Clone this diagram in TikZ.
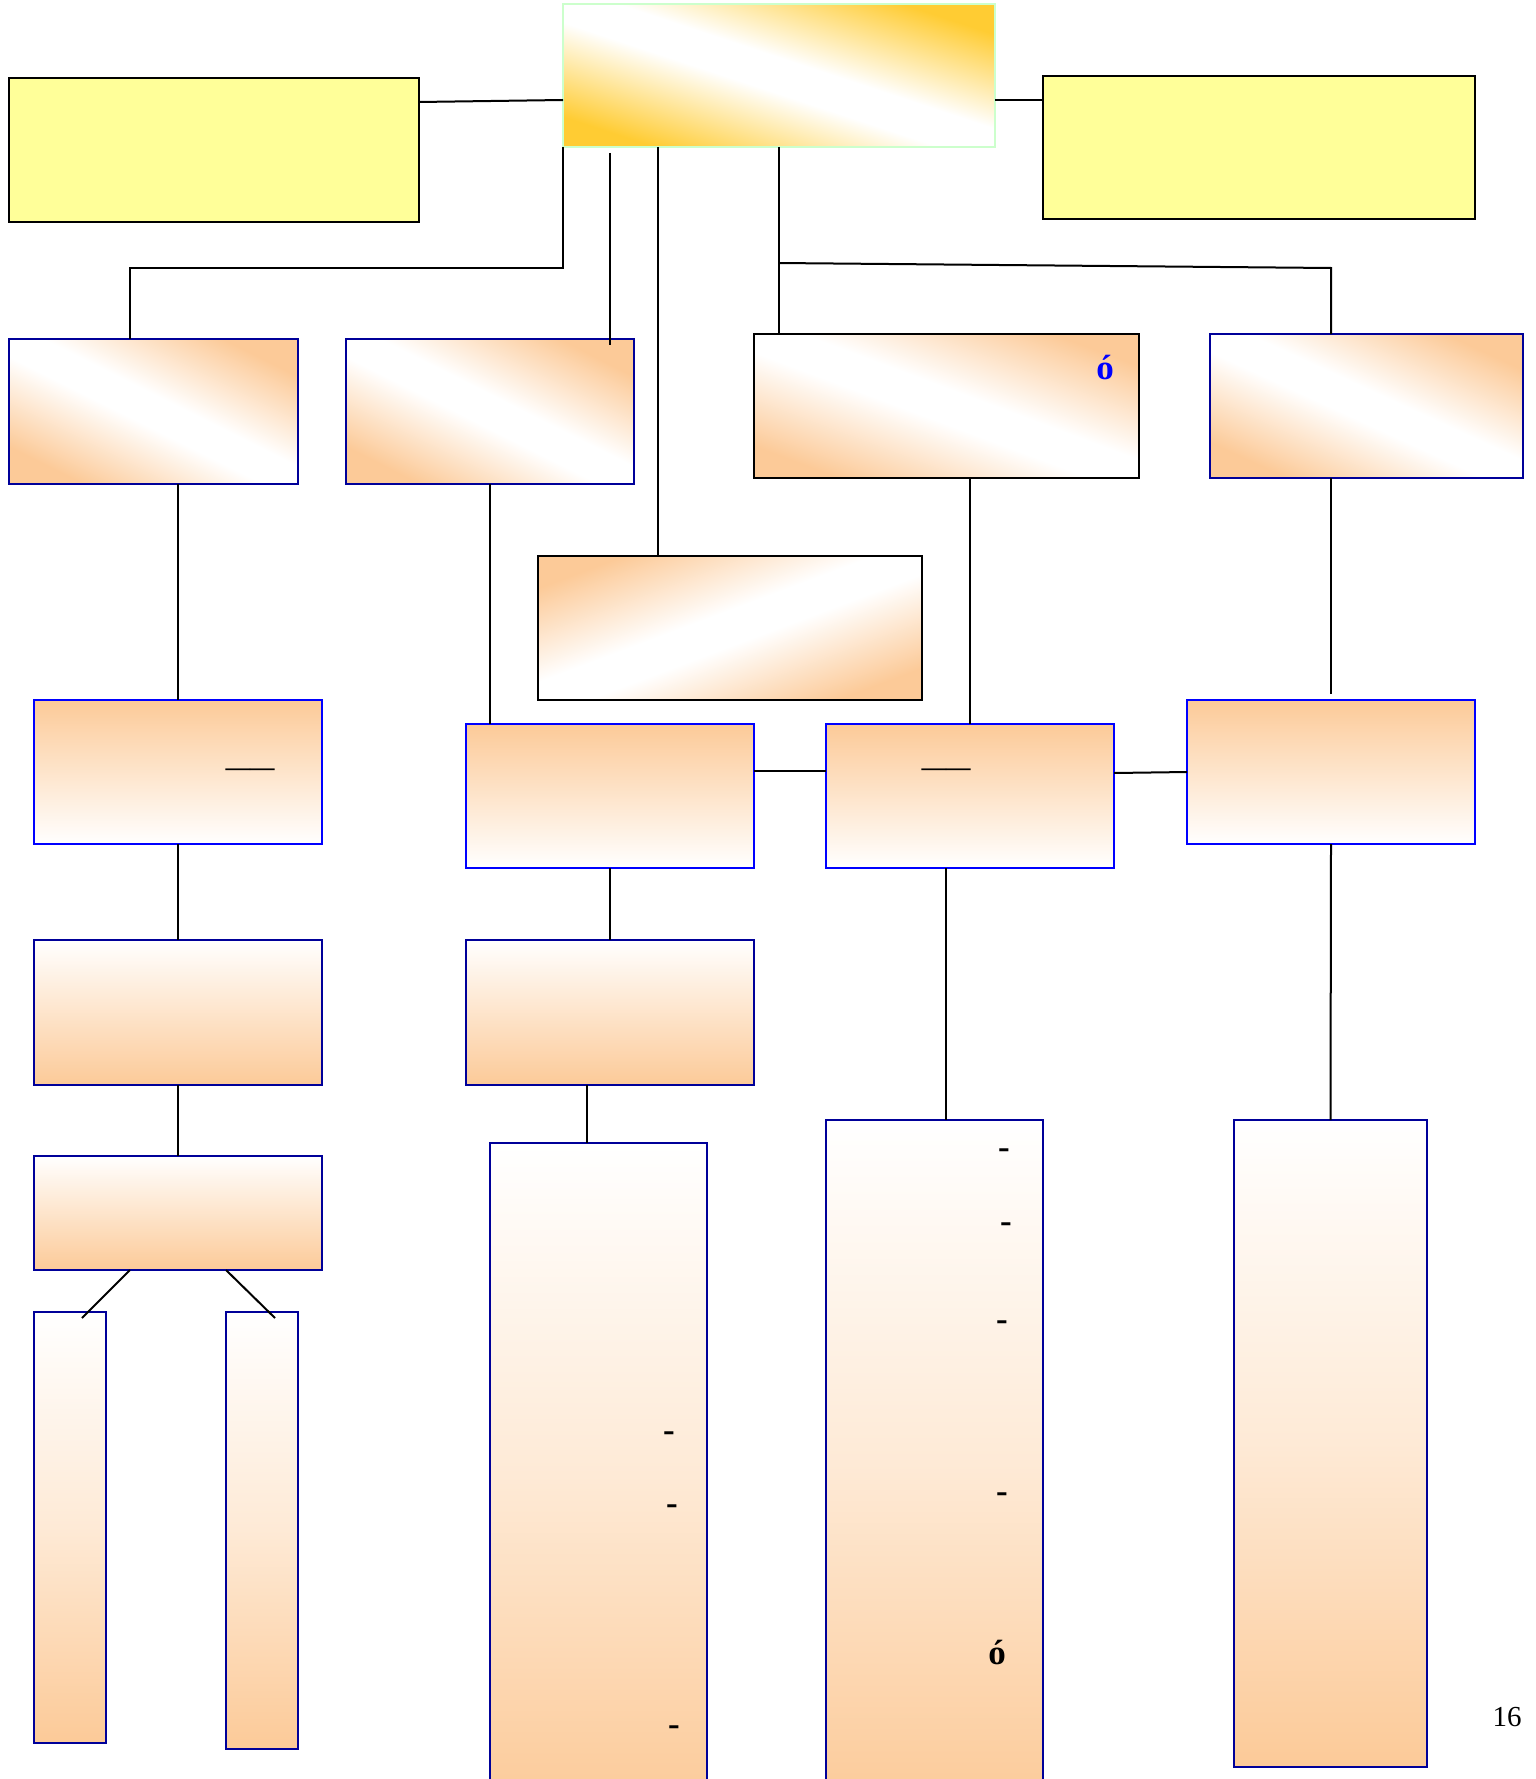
\documentclass[tikz,border=0pt]{standalone}
\usepackage{fontspec}
\setmainfont{Liberation Serif}
\usetikzlibrary{calc}

\definecolor{peach}{RGB}{252,202,152}
\definecolor{gold}{RGB}{255,204,51}
\definecolor{lemon}{RGB}{255,255,153}
\definecolor{navy}{RGB}{0,0,153}
\definecolor{mint}{RGB}{204,255,204}

\pgfdeclareverticalshading{goldband}{100bp}{color(0bp)=(gold); color(25bp)=(gold); color(46bp)=(white); color(54bp)=(white); color(75bp)=(gold); color(100bp)=(gold)}
\pgfdeclareverticalshading{peachband}{100bp}{color(0bp)=(peach); color(25bp)=(peach); color(46bp)=(white); color(54bp)=(white); color(75bp)=(peach); color(100bp)=(peach)}

\begin{document}
\begin{tikzpicture}[x=1pt, y=-1pt, line width=2pt,
    every node/.style={inner sep=0pt, outer sep=0pt},
    sz/.style 2 args={minimum width=#1, minimum height=#2},
    note/.style={rectangle, draw=black, fill=lemon},
    head/.style={rectangle, draw=mint, shade, shading=goldband},
    slant/.style={rectangle, draw=navy, shade, shading=peachband},
    slantb/.style={slant, draw=black},
    upfade/.style={rectangle, draw=blue, top color=peach, bottom color=white},
    downfade/.style={rectangle, draw=navy, top color=white, bottom color=peach},
    tall/.style={rectangle, draw=navy, top color=white, bottom color=peach, middle color=peach!40},
    glyph/.style={font=\fontsize{35}{42}\selectfont\bfseries},
    rule/.style={font=\fontsize{24.5}{30}\selectfont\bfseries}]
  \useasboundingbox (0,0) rectangle (1535,1779);
  \clip (0,0) rectangle (1535,1779);

  % 顶层
  \node[head, sz={432}{143}, shading angle=-18.3] (top) at (779,75.5) {};
  \node[note, sz={410}{144}] (ly) at (214,150) {};
  \node[note, sz={432}{143}] (ry) at (1259,147.5) {};
  \draw ($(ly.north east)+(0,24)$) -- ($(top.north west)+(0,96)$);
  \draw ($(top.north east)+(0,96)$) -- ($(ry.north west)+(0,24)$);

  % 第二层
  \node[slant, sz={289}{145}, shading angle=-26.6] (a) at (153.5,411.5) {};
  \node[slant, sz={288}{145}, shading angle=-26.7] (b) at (490,411.5) {};
  \node[slantb, sz={385}{144}, shading angle=-20.5] (c) at (946.5,406) {};
  \node[slant, sz={313}{144}, shading angle=-24.7] (d) at (1366.5,406) {};
  \node[slantb, sz={384}{144}, shading angle=20.6] (e) at (730,628) {};
  \node[glyph, text=blue] (co) at ($(c.north east)+(-34,34)$) {ó};

  \draw (top.south west) -- ++(0,121) -| ($(a.north west)+(121,0)$);
  \draw ($(top.south west)+(47,6)$) -- ($(b.north east)+(-24,6)$);
  \draw ($(top.south west)+(95,0)$) -- ($(e.north west)+(120,0)$);
  \draw (top.south) -- (top.south |- c.north);
  \draw ($(top.south)+(-1,116)$) -- ($(d.north west)+(121,-66)$) -- ($(d.north west)+(121,0)$);

  % 第三层
  \node[upfade, sz={288}{144}] (f) at (178,772) {};
  \node[upfade, sz={288}{144}] (g) at (610,796) {};
  \node[upfade, sz={288}{144}] (h) at (970,796) {};
  \node[upfade, sz={288}{144}] (i) at (1331,772) {};
  \node[rule] (fr) at (250,772) {——};
  \node[rule] (hr) at (946,772) {——};

  \draw (f.north) -- (f.north |- a.south);
  \draw (b.south) -- (b.south |- g.north);
  \draw (h.north) -- (h.north |- c.south);
  \draw ($(i.north)+(0,-6)$) -- (i.north |- d.south);
  \draw ($(g.east)+(0,-25)$) -- ($(h.west)+(0,-25)$);
  \draw ($(h.east)+(0,-23)$) -- (i.west);

  % 第四、五层
  \node[downfade, sz={288}{145}] (j) at (178,1012.5) {};
  \node[downfade, sz={288}{145}] (k) at (610,1012.5) {};
  \node[downfade, sz={288}{114}] (l) at (178,1213) {};
  \draw (f.south) -- (j.north);
  \draw (g.south) -- (k.north);
  \draw (j.south) -- (l.north);

  % 底层竖框
  \node[tall, sz={72}{431}] (m) at (70,1527.5) {};
  \node[tall, sz={72}{437}] (n) at (262,1530.5) {};
  \node[tall, sz={217}{667}] (o) at (598.5,1476.5) {};
  \node[tall, sz={217}{690}] (p) at (934.5,1465) {};
  \node[tall, sz={193}{647}] (q) at (1330.5,1443.5) {};

  \draw ($(l.south west)+(96,0)$) -- ($(m.north)+(12,6)$);
  \draw ($(l.south west)+(192,0)$) -- ($(n.north)+(13,6)$);
  \draw ($(k.south)+(-23,0)$) -- ($(o.north)+(-11.5,0)$);
  \draw ($(h.south)+(-24,0)$) -- ($(p.north)+(11.5,0)$);
  \draw (i.south) -- (q.north);

  % 竖框中的符号
  \node[glyph] (o1) at (669,1437) {-};
  \node[glyph] (o2) at (672,1510) {-};
  \node[glyph] (o3) at (674,1731) {-};
  \node[glyph] (p1) at (1004,1154) {-};
  \node[glyph] (p2) at (1006,1228) {-};
  \node[glyph] (p3) at (1002,1326) {-};
  \node[glyph] (p4) at (1002,1498) {-};
  \node[glyph] (p5) at (997,1652) {ó};

  % 页码
  \node[font=\fontsize{29}{34}\selectfont] (pg) at (1507,1717) {16};
\end{tikzpicture}
\end{document}
